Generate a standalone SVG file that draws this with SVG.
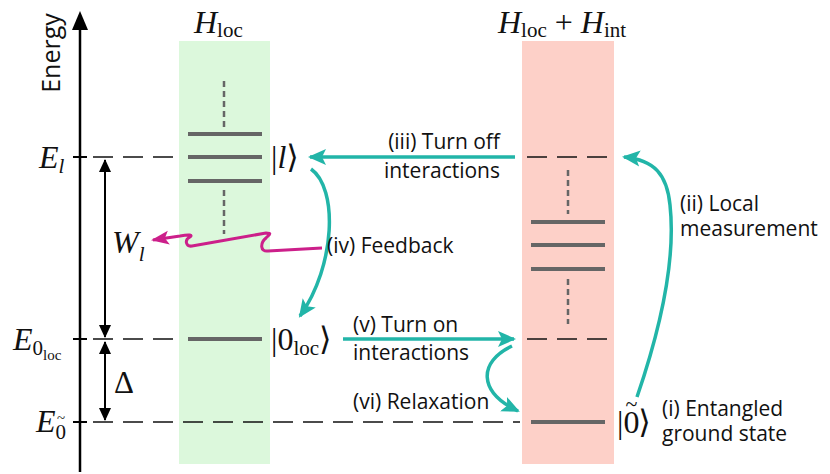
<svg xmlns="http://www.w3.org/2000/svg" width="830" height="474" viewBox="0 0 830 474">
<defs>
<style>
.lbl{font-family:"Open Sans",Lato,sans-serif;font-size:21px;fill:#111}
.math{font-family:"Liberation Serif","DejaVu Serif",serif;fill:#111}
.it{font-style:italic}
.lvl{stroke:#666;stroke-width:4}
.vd{stroke:#666;stroke-width:2.5;stroke-dasharray:6,4}
.hd{stroke:#111;stroke-width:1.6;stroke-dasharray:20,10}
.teal{fill:none;stroke:#22b5a8;stroke-width:3.5}
.blk{stroke:#000;stroke-width:2}
</style>
<marker id="ta" markerUnits="userSpaceOnUse" markerWidth="20" markerHeight="20" viewBox="0 0 20 20" refX="16" refY="10" orient="auto"><path d="M0,2 L18,10 L0,18 L4,10 Z" fill="#22b5a8"/></marker>
<marker id="ma" markerUnits="userSpaceOnUse" markerWidth="20" markerHeight="20" viewBox="0 0 20 20" refX="16" refY="10" orient="auto"><path d="M0,3 L18,10 L0,17 L4,10 Z" fill="#cc1f8a"/></marker>
<marker id="ba" markerUnits="userSpaceOnUse" markerWidth="14" markerHeight="14" viewBox="0 0 14 14" refX="12" refY="7" orient="auto"><path d="M0,1 L13,7 L0,13 Z" fill="#000"/></marker>
</defs>

<g id="columns">
<rect id="col-loc" x="179" y="41" width="91" height="423" fill="#dcf8dc"/>
<rect id="col-int" x="522" y="41" width="92" height="423" fill="#fdd0c8"/>
</g>

<g id="axis">
<line x1="80" y1="28" x2="80" y2="472" stroke="#000" stroke-width="2.5"/>
<path d="M80,11 L88,30 L72,30 Z" fill="#000"/>
<text class="lbl" transform="translate(60,53) rotate(-90)" text-anchor="middle" style="font-size:25px">Energy</text>
<line x1="73" y1="157" x2="87" y2="157" stroke="#000" stroke-width="2"/>
<line x1="73" y1="339" x2="87" y2="339" stroke="#000" stroke-width="2"/>
<line x1="73" y1="422" x2="87" y2="422" stroke="#000" stroke-width="2"/>
</g>

<g id="energy-lines">
<line class="hd" x1="93" y1="157" x2="180" y2="157"/>
<line class="hd" x1="93" y1="339" x2="180" y2="339"/>
<line class="hd" x1="93" y1="422" x2="520" y2="422"/>
<line class="hd" x1="527" y1="157" x2="612" y2="157"/>
<line class="hd" x1="527" y1="339" x2="612" y2="339"/>
</g>

<g id="gaps">
<line class="blk" x1="105" y1="337" x2="105" y2="160" marker-end="url(#ba)"/>
<line class="blk" x1="105" y1="160" x2="105" y2="337" marker-end="url(#ba)"/>
<line class="blk" x1="105" y1="420" x2="105" y2="342" marker-end="url(#ba)"/>
<line class="blk" x1="105" y1="342" x2="105" y2="420" marker-end="url(#ba)"/>
<text class="math" x="114" y="393" font-size="31">Δ</text>
</g>

<g id="loc-levels">
<line class="vd" x1="224" y1="81" x2="224" y2="127"/>
<line class="lvl" x1="188" y1="134" x2="262" y2="134"/>
<line class="lvl" x1="188" y1="157" x2="262" y2="157"/>
<line class="lvl" x1="188" y1="181" x2="262" y2="181"/>
<line class="vd" x1="224" y1="190" x2="224" y2="234"/>
<line class="lvl" x1="188" y1="339" x2="262" y2="339"/>
</g>

<g id="int-levels">
<line class="vd" x1="568" y1="170" x2="568" y2="214"/>
<line class="lvl" x1="531" y1="222" x2="605" y2="222"/>
<line class="lvl" x1="531" y1="245" x2="605" y2="245"/>
<line class="lvl" x1="531" y1="269" x2="605" y2="269"/>
<line class="vd" x1="568" y1="279" x2="568" y2="324"/>
<line class="lvl" x1="531" y1="422" x2="605" y2="422"/>
</g>

<g id="titles">
<text class="math" x="194" y="33" font-size="32"><tspan class="it">H</tspan><tspan font-size="21" dy="4">loc</tspan></text>
<text class="math" x="498" y="33" font-size="32"><tspan class="it">H</tspan><tspan font-size="21" dy="4">loc</tspan><tspan dy="-4"> + </tspan><tspan class="it">H</tspan><tspan font-size="21" dy="4">int</tspan></text>
</g>

<g id="energy-labels">
<text class="math" x="39" y="168" font-size="32"><tspan class="it">E</tspan><tspan class="it" font-size="21" dy="5">l</tspan></text>
<text class="math" x="13" y="350" font-size="32"><tspan class="it">E</tspan><tspan font-size="21" dy="5">0</tspan><tspan font-size="15" dy="5">loc</tspan></text>
<text class="math" x="36" y="432" font-size="32"><tspan class="it">E</tspan><tspan font-size="21" dy="7">0</tspan><tspan font-size="15" dx="-9" dy="-16">~</tspan></text>
<text class="math" x="112" y="253" font-size="32"><tspan class="it">W</tspan><tspan class="it" font-size="21" dy="8">l</tspan></text>
</g>

<g id="kets">
<text class="math" x="271" y="168" font-size="32">|<tspan class="it">l</tspan>⟩</text>
<text class="math" x="271" y="350" font-size="32">|0<tspan font-size="21" dy="5">loc</tspan><tspan dy="-5">⟩</tspan></text>
<text class="math" x="617" y="433" font-size="32">|0<tspan font-size="22" dx="-14" dy="-22">~</tspan><tspan dx="1" dy="22">⟩</tspan></text>
</g>

<g id="connectors">
<path id="c-iii" class="teal" d="M515,157 L310,157" marker-end="url(#ta)"/>
<path id="c-iv" class="teal" d="M311,169 C338,188 336,265 300,316" marker-end="url(#ta)"/>
<path id="c-v" class="teal" d="M343,339 L514,339" marker-end="url(#ta)"/>
<path id="c-vi" class="teal" d="M512,346 C478,362 478,392 518,411" marker-end="url(#ta)"/>
<path id="c-ii" class="teal" d="M637,397 C660,330 676,260 670,205 C667,175 655,160 624,157" marker-end="url(#ta)"/>
<path id="c-wave" fill="none" stroke="#cc1f8a" stroke-width="3" d="M322,248 L268,251 C260,252 260,243 266,238 C270,234 272,233 266,233 L192,246 C186,247 184,240 190,237 C193,235 190,234 180,236 L153,240" marker-end="url(#ma)"/>
</g>

<g id="step-labels">
<text class="lbl" text-anchor="end"><tspan x="500" y="149">(iii) Turn off</tspan><tspan x="500" y="178">interactions</tspan></text>
<text class="lbl" x="327" y="253">(iv) Feedback</text>
<text class="lbl"><tspan x="353" y="332">(v) Turn on</tspan><tspan x="353" y="360">interactions</tspan></text>
<text class="lbl" x="353" y="409">(vi) Relaxation</text>
<text class="lbl"><tspan x="680" y="211">(ii) Local</tspan><tspan x="680" y="236">measurement</tspan></text>
<text class="lbl"><tspan x="662" y="416">(i) Entangled</tspan><tspan x="662" y="441">ground state</tspan></text>
</g>
</svg>
